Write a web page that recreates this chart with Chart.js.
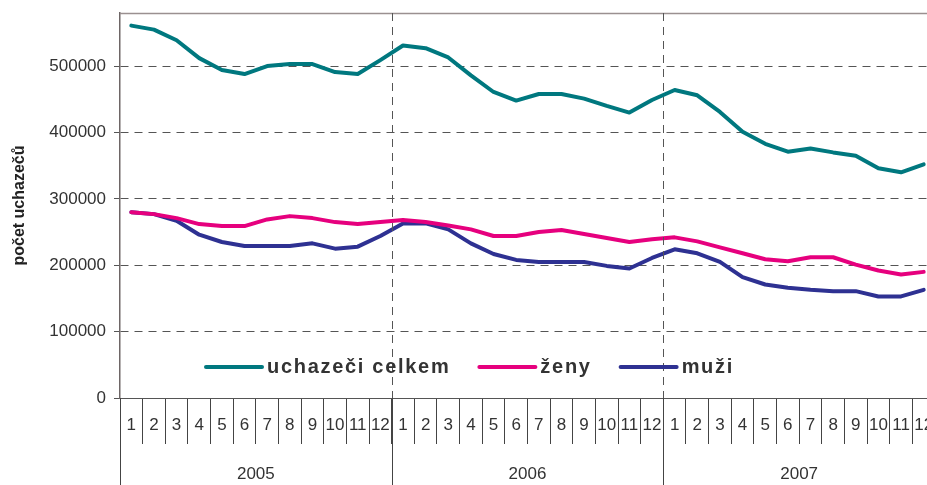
<!DOCTYPE html>
<html>
<head>
<meta charset="utf-8">
<script src="https://cdn.jsdelivr.net/npm/chart.js@4.4.0/dist/chart.umd.min.js"></script>
<style>
  html, body { margin: 0; padding: 0; background: #fff; overflow: hidden; }
  #wrap { width: 942px; height: 485px; }
</style>
</head>
<body>
<div id="wrap"><canvas id="chart" width="942" height="485"></canvas></div>
<script>
const years = ["2005", "2006", "2007"];
const months = ["1", "2", "3", "4", "5", "6", "7", "8", "9", "10", "11", "12"];
const yTicks = [0, 100000, 200000, 300000, 400000, 500000];
const seriesNames = ["uchazeči celkem", "ženy", "muži"];

const celkem = [561000, 555000, 539000, 512000, 494000, 488000, 500000, 503000, 503000, 491000, 488000, 509000,
  531000, 527000, 513000, 486000, 461000, 448000, 458000, 458000, 451000, 440000, 430000, 449000,
  464000, 456000, 431000, 401000, 383000, 371000, 376000, 370000, 365000, 346000, 340000, 352000];
const zeny = [280000, 277000, 271000, 262000, 259000, 259000, 269000, 274000, 271000, 265000, 262000, 265000,
  268000, 265000, 260000, 254000, 244000, 244000, 250000, 253000, 247000, 241000, 235000, 239000,
  242000, 236000, 227000, 218000, 209000, 206000, 212000, 212000, 201000, 192000, 186000, 190000];
const muzi = [280000, 277000, 267000, 246000, 235000, 229000, 229000, 229000, 233000, 225000, 228000, 244000,
  263000, 263000, 254000, 233000, 217000, 208000, 205000, 205000, 205000, 199000, 195000, 211000,
  224000, 218000, 205000, 182000, 171000, 166000, 163000, 161000, 161000, 153000, 153000, 163000];

const FONT = "'Liberation Sans', Arial, sans-serif";

// one label per month, years repeat
let labels = [];
years.forEach(() => months.forEach(m => labels.push(m)));

// year separators, year names, top border and legend
const extras = {
  id: "extras",
  afterDatasetsDraw(chart) {
    const { ctx, chartArea, scales } = chart;
    const x = scales.x;
    const H = chart.height;
    const step = x.getPixelForValue(1) - x.getPixelForValue(0);

    ctx.save();
    // top border
    ctx.strokeStyle = "#9a9090";
    ctx.lineWidth = 1.5;
    ctx.beginPath();
    ctx.moveTo(chartArea.left, chartArea.top + 0.5);
    ctx.lineTo(chartArea.right, chartArea.top + 0.5);
    ctx.stroke();

    for (let i = 0; i <= years.length; i++) {
      const px = Math.round(x.getPixelForValue(i * 12) - step / 2) + 0.5;
      if (i > 0 && i < years.length) {
        ctx.strokeStyle = "#555";
        ctx.lineWidth = 1;
        ctx.setLineDash([8, 6]);
        ctx.beginPath();
        ctx.moveTo(px, chartArea.top);
        ctx.lineTo(px, chartArea.bottom);
        ctx.stroke();
      }
      ctx.setLineDash([]);
      ctx.strokeStyle = "#444";
      ctx.lineWidth = 1;
      ctx.beginPath();
      ctx.moveTo(px, chartArea.bottom);
      ctx.lineTo(px, H);
      ctx.stroke();
    }

    ctx.fillStyle = "#333";
    ctx.font = "17px " + FONT;
    ctx.textAlign = "center";
    ctx.textBaseline = "middle";
    years.forEach((yr, i) => {
      const cx = (x.getPixelForValue(i * 12 + 5) + x.getPixelForValue(i * 12 + 6)) / 2;
      ctx.fillText(yr, cx, chartArea.bottom + 76);
    });

    // legend
    let lx = 206;
    const ly = chartArea.bottom - 31;
    ctx.font = "bold 20px " + FONT;
    ctx.letterSpacing = "1.7px";
    ctx.textAlign = "left";
    chart.data.datasets.forEach(ds => {
      ctx.strokeStyle = ds.borderColor;
      ctx.lineWidth = 4;
      ctx.lineCap = "round";
      ctx.beginPath();
      ctx.moveTo(lx, ly);
      ctx.lineTo(lx + 56, ly);
      ctx.stroke();
      lx += 61;
      ctx.fillStyle = "#333";
      ctx.fillText(ds.label, lx, ly);
      lx += ctx.measureText(ds.label).width + 29;
    });
    ctx.restore();
  }
};

new Chart(document.getElementById("chart"), {
  type: "line",
  data: {
    labels: labels,
    datasets: [
      { label: seriesNames[0], data: celkem, borderColor: "#00787f" },
      { label: seriesNames[1], data: zeny, borderColor: "#e6007e" },
      { label: seriesNames[2], data: muzi, borderColor: "#2e3192" }
    ]
  },
  options: {
    responsive: false,
    animation: false,
    devicePixelRatio: 1,
    layout: { padding: { top: 13, right: 7, left: 0, bottom: 0 } },
    elements: {
      line: { borderWidth: 4, tension: 0, borderCapStyle: "round", borderJoinStyle: "round" },
      point: { radius: 0 }
    },
    plugins: { legend: { display: false }, tooltip: { enabled: false } },
    scales: {
      x: {
        offset: true,
        grid: { offset: true, drawOnChartArea: false, tickLength: 46, tickColor: "#444", tickWidth: 1 },
        border: { display: true, color: "#555", width: 1 },
        ticks: {
          autoSkip: false, maxRotation: 0, minRotation: 0, padding: -29,
          color: "#333", font: { family: FONT, size: 17 }
        },
        afterFit(axis) { axis.height = 87; }
      },
      y: {
        min: 0,
        max: 580000,
        afterBuildTicks(axis) { axis.ticks = yTicks.map(v => ({ value: v })); },
        grid: {
          color: c => (c.tick && c.tick.value === 0 ? "rgba(0,0,0,0)" : "#555"),
          tickColor: "#555", tickLength: 6, lineWidth: 1
        },
        border: { display: true, color: "#6e6666", width: 1.5, dash: [8, 6] },
        ticks: {
          padding: 8, color: "#333", font: { family: FONT, size: 17 },
          callback: v => String(v)
        },
        title: {
          display: true, text: "počet uchazečů", color: "#222",
          font: { family: FONT, size: 16, weight: "bold" }, padding: { top: 10, bottom: 0 }
        },
        afterFit(axis) {
          axis.width = 120;
          axis.paddingTop = 0;
          axis.paddingBottom = 0;
        }
      }
    }
  },
  plugins: [extras]
});
</script>
</body>
</html>
